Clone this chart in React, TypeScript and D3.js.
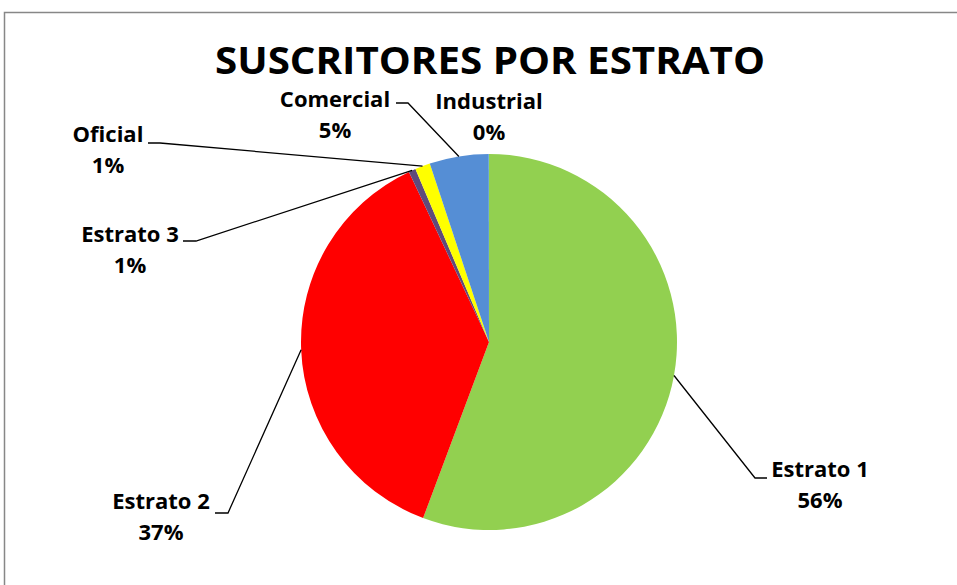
import React from "react";
import * as d3 from "d3";

const categories = ["Estrato 1", "Estrato 2", "Estrato 3", "Oficial", "Comercial", "Industrial"];
const values = [55.7, 37.3, 0.6, 1.3, 5.08, 0.02];
const colors = ["#92D050", "#FF0000", "#604A7B", "#FFFF00", "#558ED5", "#4BACC6"];
const percentLabels = ["56%", "37%", "1%", "1%", "5%", "0%"];

// label layout: text center x, first baseline y, leader elbow (x,y) or null
const labelLayout = [
  { x: 820, y: 477, elbow: [755, 478], end: [767, 478] },
  { x: 161, y: 509, elbow: [228, 513], end: [215, 513] },
  { x: 130, y: 242, elbow: [196, 241], end: [183, 241] },
  { x: 108, y: 142, elbow: [160, 143], end: [148, 143] },
  { x: 335, y: 107, elbow: [408, 103], end: [396, 103] },
  { x: 489, y: 109, elbow: null, end: null },
];

export default function App() {
  const W = 957, H = 585;
  const cx = 489, cy = 342, r = 188;
  const pie = d3.pie<number>().sort(null).value((d) => d)(values);
  const arc = d3.arc<d3.PieArcDatum<number>>().innerRadius(0).outerRadius(r);
  const font = "'Open Sans', 'Liberation Sans', sans-serif";
  return (
    <svg width={W} height={H} style={{ position: "absolute", left: 0, top: 0 }}>
      <rect x={0} y={0} width={W} height={H} fill="#fff" />
      <rect x={4.5} y={12.5} width={W + 10} height={H + 10} fill="none" stroke="#878787" strokeWidth={1.5} />
      <text x={490} y={73.5} textAnchor="middle" fontFamily={font} fontWeight="bold" fontSize={38}
        textLength={550} lengthAdjust="spacingAndGlyphs" fill="#000">SUSCRITORES POR ESTRATO</text>
      <g transform={`translate(${cx},${cy})`}>
        {pie.map((d, i) => (
          <path key={i} d={arc(d) || ""} fill={colors[i]} />
        ))}
      </g>
      {pie.map((d, i) => {
        const L = labelLayout[i];
        const mid = (d.startAngle + d.endAngle) / 2;
        const px = cx + r * Math.sin(mid);
        const py = cy - r * Math.cos(mid);
        return (
          <g key={i}>
            {L.elbow && (
              <polyline points={`${px},${py} ${L.elbow[0]},${L.elbow[1]} ${L.end![0]},${L.end![1]}`}
                fill="none" stroke="#000" strokeWidth={1.3} />
            )}
            <text x={L.x} y={L.y} textAnchor="middle" fontFamily={font} fontWeight="bold" fontSize={22} fill="#000">
              {categories[i]}
            </text>
            <text x={L.x} y={L.y + 31} textAnchor="middle" fontFamily={font} fontWeight="bold" fontSize={22} fill="#000">
              {percentLabels[i]}
            </text>
          </g>
        );
      })}
    </svg>
  );
}
